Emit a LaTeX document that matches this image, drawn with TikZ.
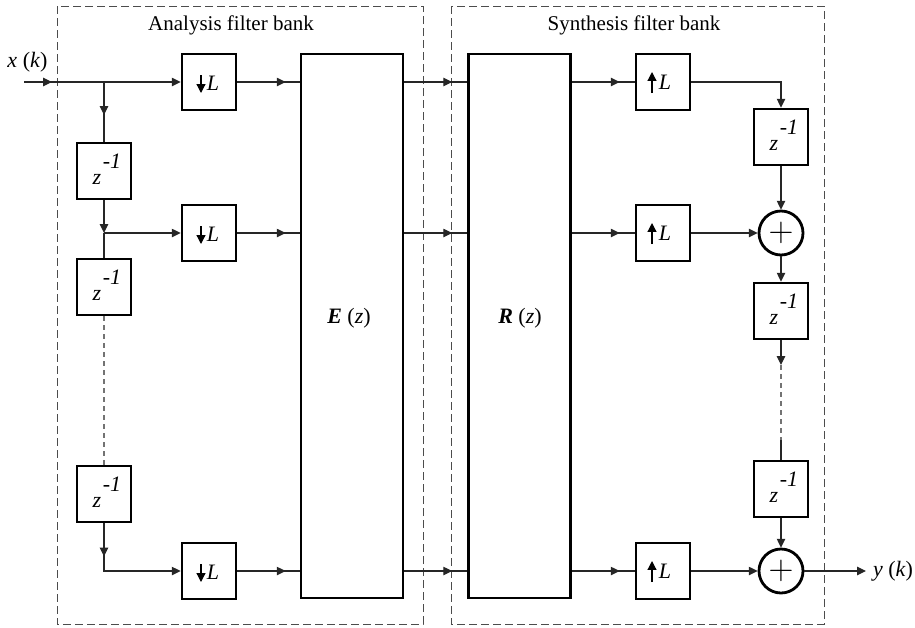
\documentclass[tikz,border=0pt]{standalone}
\usepackage{fontspec}
\setmainfont{Liberation Serif}
\usetikzlibrary{arrows.meta,decorations.markings}

\tikzset{
  ftip/.tip={Triangle[length=4.4pt,width=4.2pt]},
  wire/.style={line width=0.55pt,draw=black!85},
  arr/.style={wire,-ftip},
  arrat/.style={postaction={decorate},
    decoration={markings,mark=at position #1 with {\arrow{ftip}}}},
  blk/.style={draw,line width=1.4pt,minimum width=27pt,minimum height=28pt,inner sep=0pt},
  bank/.style={draw,line width=1.4pt,minimum width=51pt,minimum height=272pt,inner sep=0pt},
  sum/.style={draw,circle,line width=1.4pt,minimum size=22pt,inner sep=0pt},
  frame/.style={draw=black!70,line width=0.5pt,dash pattern=on 4pt off 2pt},
  gap/.style={line width=0.55pt,draw=black!55,dash pattern=on 2.5pt off 2pt},
  txt/.style={font=\fontsize{11}{13}\selectfont,inner sep=0pt},
  ttl/.style={font=\fontsize{10.5}{12}\selectfont,inner sep=0pt},
  glyph/.style={line width=0.6pt,-{Triangle[length=4.4pt,width=4.4pt]}},
}

% unit delay block: z^{-1}
\newcommand\zdelay[2]{%
  \node[blk] (#1) at (#2) {};
  \node[txt] at ([shift={(-7,8)}]#1.center) {\textit{z}};
  \node[txt] at ([shift={(8,-9.5)}]#1.center) {\textit{-1}};
}
% downsampler block
\newcommand\downs[2]{%
  \node[blk] (#1) at (#2) {};
  \node[txt] at ([shift={(4,1)}]#1.center) {\textit{L}};
  \draw[glyph] ([shift={(-8,-7)}]#1.center) -- ([shift={(-8,11)}]#1.center);
}
% upsampler block
\newcommand\ups[2]{%
  \node[blk] (#1) at (#2) {};
  \node[txt] at ([shift={(2,0)}]#1.center) {\textit{L}};
  \draw[glyph] ([shift={(-11,11)}]#1.center) -- ([shift={(-11,-10)}]#1.center);
}

\begin{document}
\begin{tikzpicture}[x=0.5pt,y=-0.5pt]
\useasboundingbox (0,0) rectangle (915,627);

% filter bank frames
\draw[frame] (57,6) rectangle (423,624);
\draw[frame] (451,6) rectangle (824,624);
\node[ttl] (ta) at (231,25) {Analysis filter bank};
\node[ttl] (ts) at (634,25) {Synthesis filter bank};

% analysis side
\downs{d1}{209,82}
\downs{d2}{209,233}
\downs{d3}{209,571}
\zdelay{za1}{104,171}
\zdelay{za2}{104,287}
\zdelay{za3}{104,494}
\node[bank] (E) at (352,326) {};
\node[txt] (El) at (349,318) {\textbf{\textit{E}} (\textit{z})};

% synthesis side
\node[bank] (R) at (519.5,326) {};
\node[txt] (Rl) at (520,318) {\textbf{\textit{R}} (\textit{z})};
\ups{u1}{663,82}
\ups{u2}{663,233}
\ups{u3}{663,571}
\zdelay{zs1}{781,137}
\zdelay{zs2}{781,311}
\zdelay{zs3}{781,489}
\node[sum] (s1) at (781,233) {\fontsize{17}{17}\selectfont$+$};
\node[sum] (s2) at (781,571) {\fontsize{17}{17}\selectfont$+$};

% input and output
\coordinate (in) at (24,82);
\coordinate (out) at (866,571);
\node[txt] (xl) at (27.5,62) {\textit{x} (\textit{k})};
\node[txt] (yl) at (893,571) {\textit{y} (\textit{k})};

% delay chain and downsamplers
\coordinate (b1) at (za1 |- d1);
\coordinate (b2) at (za1 |- d2);
\draw[arr,arrat=14pt] (in) -- (d1);
\draw[wire,arrat=16.5pt] (b1) -- (za1);
\draw[arr] (za1) -- (b2);
\draw[arr] (b2) -- (d2);
\draw[wire] (b2) -- (za2);
\draw[gap] (za2) -- (za3);
\draw[arr,arrat=16.5pt] (za3) |- (d3);

% downsamplers into E(z)
\draw[wire,arrat=-7pt] (d1) -- (d1 -| E.west);
\draw[wire,arrat=-7pt] (d2) -- (d2 -| E.west);
\draw[wire,arrat=-7pt] (d3) -- (d3 -| E.west);

% E(z) into R(z)
\draw[wire,arrat=-7.5pt] (E.east |- d1) -- (R.west |- d1);
\draw[wire,arrat=-7.5pt] (E.east |- d2) -- (R.west |- d2);
\draw[wire,arrat=-7.5pt] (E.east |- d3) -- (R.west |- d3);

% R(z) into upsamplers
\draw[wire,arrat=-7.5pt] (R.east |- u1) -- (u1);
\draw[wire,arrat=-7.5pt] (R.east |- u2) -- (u2);
\draw[wire,arrat=-7.5pt] (R.east |- u3) -- (u3);

% delay-and-add chain
\coordinate (g1) at (781,365);
\coordinate (g2) at (781,440);
\draw[arr] (u1) -| (zs1);
\draw[arr] (zs1) -- (s1);
\draw[arr] (u2) -- (s1);
\draw[arr] (s1) -- (zs2);
\draw[arr] (zs2) -- (g1);
\draw[gap] (g1) -- (g2);
\draw[wire] (g2) -- (zs3);
\draw[arr] (zs3) -- (s2);
\draw[arr] (u3) -- (s2);
\draw[arr] (s2) -- (out);
\end{tikzpicture}
\end{document}
